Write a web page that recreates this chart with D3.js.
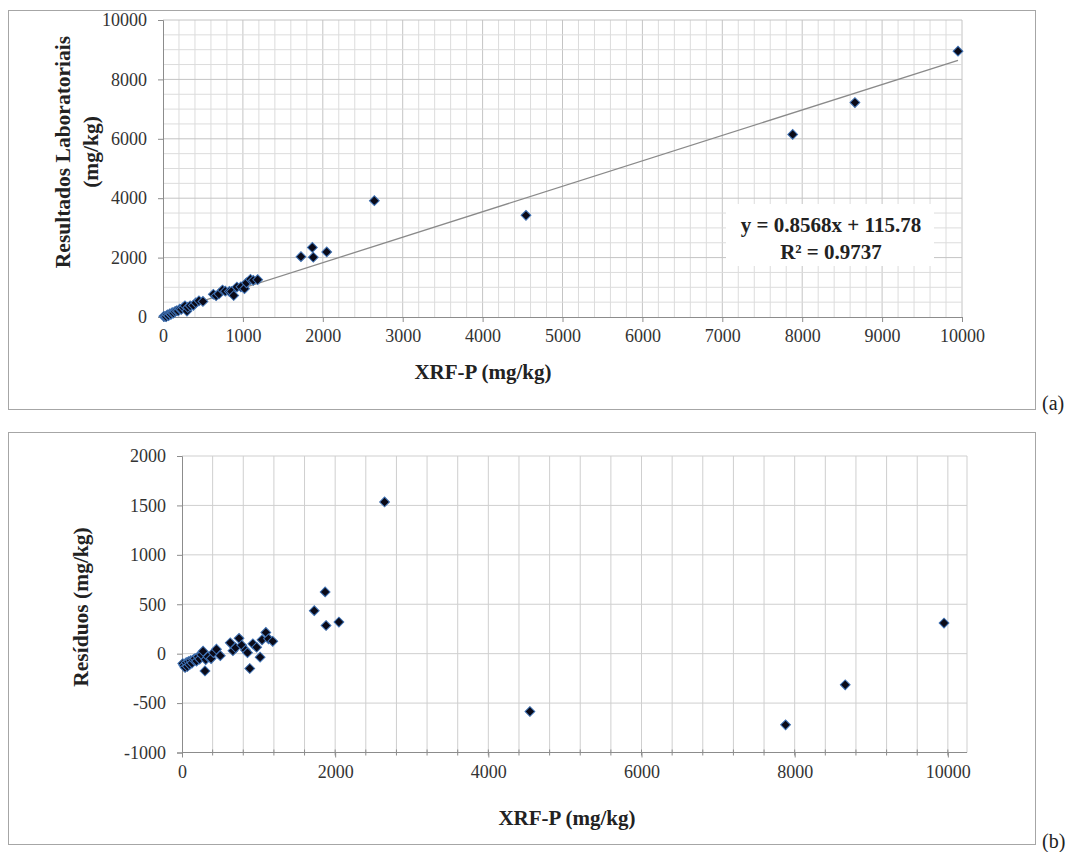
<!DOCTYPE html>
<html><head><meta charset="utf-8">
<script src="https://cdn.jsdelivr.net/npm/d3@7"></script>
<style>
html,body{margin:0;padding:0;background:#fff;}
svg text{font-family:"Liberation Serif","Times New Roman",serif;}
</style></head>
<body>
<svg id="chart" width="1076" height="852"></svg>
<script>
// ---- data ----
const xrf = [10,25,40,55,70,85,100,115,130,150,170,190,210,230,255,275,300,310,340,380,410,450,500,
  630,665,700,745,780,830,855,885,925,975,1020,1045,1095,1130,1185,
  1727,1869,1881,2049,2645,4543,7881,8660,9950];
const lab = [24,17,10,73,46,109,91,144,132,184,211,204,266,258,324,376,198,321,377,391,477,546,524,
  766,716,776,909,869,862,858,724,1008,1016,955,1151,1269,1234,1256,
  2031,2342,2012,2191,3917,3423,6148,7221,8951];
const resid = [-100,-120,-140,-90,-130,-80,-110,-70,-95,-60,-50,-75,-30,-55,-10,25,-175,-60,-30,-50,10,45,-20,
  110,30,60,155,85,35,10,-150,100,65,-35,140,215,150,125,
  435,625,285,320,1535,-585,-720,-315,310];
const trendSlope = 0.8568, trendIntercept = 115.78;
const eqLines = ["y = 0.8568x + 115.78", "R² = 0.9737"];
const topXTicks = [0,1000,2000,3000,4000,5000,6000,7000,8000,9000,10000];
const topYTicks = [0,2000,4000,6000,8000,10000];
const botXTicks = [0,2000,4000,6000,8000,10000];
const botYTicks = [-1000,-500,0,500,1000,1500,2000];

const svg = d3.select("#chart");
const serif = '"Liberation Serif","Times New Roman",serif';
const fmt = d => String(d);

function marker(g, pts, xs, ys){
  g.selectAll("path.pt").data(pts).join("path")
    .attr("class","pt")
    .attr("d", d3.symbol().type(d3.symbolSquare).size(48))
    .attr("transform", d => `translate(${xs(d[0])},${ys(d[1])}) rotate(45)`)
    .attr("fill","#0a0a18").attr("stroke","#3f72b5").attr("stroke-width",1);
}

// ---------------- panel (a) ----------------
svg.append("rect").attr("x",8.5).attr("y",10.5).attr("width",1027).attr("height",399)
  .attr("fill","#fff").attr("stroke","#a6a6a6");
const xa = d3.scaleLinear().domain([0,10000]).range([163,962]);
const ya = d3.scaleLinear().domain([0,10000]).range([317,20]);
const ga = svg.append("g");
ga.append("g").selectAll("line").data(d3.range(200,10001,200)).join("line")
  .attr("x1",d=>xa(d)).attr("x2",d=>xa(d)).attr("y1",ya(0)).attr("y2",ya(10000))
  .attr("stroke", d=> d%1000===0 ? "#c4c4c4" : "#dcdcdc").attr("stroke-width",1);
ga.append("g").selectAll("line").data(d3.range(500,10001,500)).join("line")
  .attr("x1",xa(0)).attr("x2",xa(10000)).attr("y1",d=>ya(d)).attr("y2",d=>ya(d))
  .attr("stroke", d=> d%2000===0 ? "#c4c4c4" : "#dcdcdc").attr("stroke-width",1);
const axAx = d3.axisBottom(xa).tickValues(topXTicks).tickSize(5).tickPadding(7).tickFormat(fmt);
const gxa = ga.append("g").attr("transform",`translate(0,${ya(0)})`).call(axAx);
const ayAx = d3.axisLeft(ya).tickValues(topYTicks).tickSize(5).tickPadding(11).tickFormat(fmt);
const gya = ga.append("g").attr("transform",`translate(${xa(0)},0)`).call(ayAx);
[gxa,gya].forEach(g=>{
  g.selectAll("path.domain").attr("stroke","#8c8c8c");
  g.selectAll(".tick line").attr("stroke","#8c8c8c");
  g.selectAll("text").attr("font-family",serif).attr("font-size",18).attr("fill","#333");
});
const tx0 = 0, tx1 = d3.max(xrf);
ga.append("line").attr("x1",xa(tx0)).attr("y1",ya(trendSlope*tx0+trendIntercept))
  .attr("x2",xa(tx1)).attr("y2",ya(trendSlope*tx1+trendIntercept))
  .attr("stroke","#8a8a8a").attr("stroke-width",1.3);
marker(ga, xrf.map((x,i)=>[x,lab[i]]), xa, ya);
ga.append("rect").attr("x",726).attr("y",204).attr("width",208).attr("height",62).attr("fill","#fff");
ga.selectAll("text.eq").data(eqLines).join("text").attr("class","eq")
  .attr("x",831).attr("y",(d,i)=>232+i*27).attr("text-anchor","middle")
  .attr("font-family",serif).attr("font-weight","bold").attr("font-size",21).attr("fill","#222")
  .text(d=>d);
ga.append("text").attr("x",483).attr("y",379).attr("text-anchor","middle")
  .attr("font-weight","bold").attr("font-size",21).attr("fill","#222").text("XRF-P (mg/kg)");
const yt = ga.append("text").attr("transform","translate(76,152) rotate(-90)").attr("text-anchor","middle")
  .attr("font-weight","bold").attr("font-size",21.5).attr("fill","#222");
yt.append("tspan").attr("x",0).attr("dy",-6).text("Resultados Laboratoriais");
yt.append("tspan").attr("x",0).attr("dy",28).text("(mg/kg)");
svg.append("text").attr("x",1042).attr("y",410).attr("font-size",20).attr("fill","#222").text("(a)");

// ---------------- panel (b) ----------------
svg.append("rect").attr("x",8.5).attr("y",432.5).attr("width",1027).attr("height",412)
  .attr("fill","#fff").attr("stroke","#a6a6a6");
const xb = d3.scaleLinear().domain([0,10250]).range([182,967]);
const yb = d3.scaleLinear().domain([-1000,2000]).range([752.5,456]);
const gb = svg.append("g");
gb.append("g").selectAll("line").data(d3.range(400,10250,400)).join("line")
  .attr("x1",d=>xb(d)).attr("x2",d=>xb(d)).attr("y1",yb(-1000)).attr("y2",yb(2000))
  .attr("stroke","#cfcfcf");
gb.append("line").attr("x1",xb(10250)).attr("x2",xb(10250)).attr("y1",yb(-1000)).attr("y2",yb(2000)).attr("stroke","#cfcfcf");
gb.append("g").selectAll("line").data(d3.range(-500,2001,500)).join("line")
  .attr("x1",xb(0)).attr("x2",xb(10250)).attr("y1",d=>yb(d)).attr("y2",d=>yb(d))
  .attr("stroke","#cfcfcf");
gb.append("g").selectAll("line").data(d3.range(400,10250,400)).join("line")
  .attr("x1",d=>xb(d)).attr("x2",d=>xb(d)).attr("y1",yb(-1000)-3).attr("y2",yb(-1000)+3)
  .attr("stroke","#8c8c8c");
const bxAx = d3.axisBottom(xb).tickValues(botXTicks).tickSize(5).tickPadding(8).tickFormat(fmt);
const gxb = gb.append("g").attr("transform",`translate(0,${yb(-1000)})`).call(bxAx);
const byAx = d3.axisLeft(yb).tickValues(botYTicks).tickSize(5).tickPadding(11).tickFormat(fmt);
const gyb = gb.append("g").attr("transform",`translate(${xb(0)},0)`).call(byAx);
[gxb,gyb].forEach(g=>{
  g.selectAll("path.domain").attr("stroke","#8c8c8c");
  g.selectAll(".tick line").attr("stroke","#8c8c8c");
  g.selectAll("text").attr("font-family",serif).attr("font-size",18).attr("fill","#333");
});
gxb.select("path.domain").attr("d",`M${xb(0)},0H${xb(10250)}`);
marker(gb, xrf.map((x,i)=>[x,resid[i]]), xb, yb);
gb.append("text").attr("x",567).attr("y",825).attr("text-anchor","middle")
  .attr("font-weight","bold").attr("font-size",21).attr("fill","#222").text("XRF-P (mg/kg)");
gb.append("text").attr("transform","translate(88,607) rotate(-90)").attr("text-anchor","middle")
  .attr("font-weight","bold").attr("font-size",21.5).attr("fill","#222").text("Resíduos (mg/kg)");
svg.append("text").attr("x",1042).attr("y",848).attr("font-size",20).attr("fill","#222").text("(b)");
</script>
</body></html>
